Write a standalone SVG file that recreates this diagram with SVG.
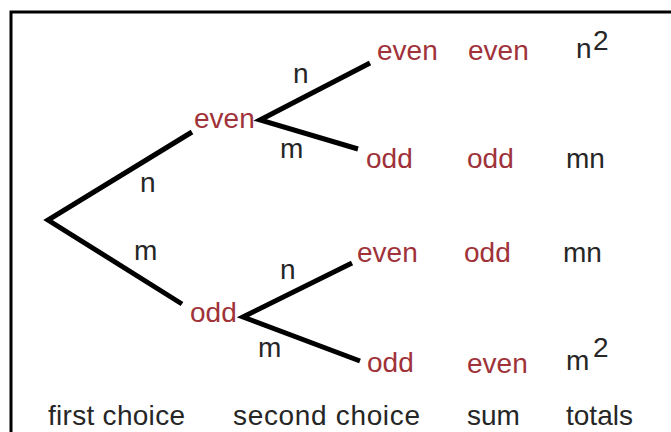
<svg xmlns="http://www.w3.org/2000/svg" width="671" height="432" viewBox="0 0 671 432">
<style>
text{font-family:"Liberation Sans",Arial,sans-serif;font-size:28px}
.r{fill:#a0323a}
.k{fill:#262626}
.e{stroke:#000;stroke-width:5;fill:none;stroke-linecap:butt;stroke-linejoin:miter}
</style>
<rect width="671" height="432" fill="#fff"/>
<path d="M11,432 V12 H671" fill="none" stroke="#000" stroke-width="3"/>
<g id="connectors">
<path class="e" d="M192,132 L48,220 L182,304"/>
<path class="e" d="M370,63 L260,120 L358,149"/>
<path class="e" d="M352,263 L243,317 L360,361"/>
</g>
<g id="edge-labels">
<text class="k" x="140" y="192">n</text>
<text class="k" x="134" y="260">m</text>
<text class="k" x="293" y="83">n</text>
<text class="k" x="280" y="158">m</text>
<text class="k" x="280" y="279">n</text>
<text class="k" x="258" y="357">m</text>
</g>
<g id="node-even"><text class="r" x="194" y="128">even</text></g>
<g id="node-odd"><text class="r" x="190" y="322">odd</text></g>
<g id="leaf-even-even">
<text class="r" x="377" y="60">even</text>
<text class="r" x="468" y="60">even</text>
<text class="k" x="576" y="58">n</text><text class="k" x="593" y="50">2</text>
</g>
<g id="leaf-even-odd">
<text class="r" x="366" y="168">odd</text>
<text class="r" x="467" y="168">odd</text>
<text class="k" x="566" y="168">mn</text>
</g>
<g id="leaf-odd-even">
<text class="r" x="357" y="262">even</text>
<text class="r" x="464" y="262">odd</text>
<text class="k" x="563" y="262">mn</text>
</g>
<g id="leaf-odd-odd">
<text class="r" x="367" y="372">odd</text>
<text class="r" x="467" y="373">even</text>
<text class="k" x="566" y="370">m</text><text class="k" x="593" y="357">2</text>
</g>
<g id="headers">
<text class="k" x="48" y="425" textLength="137">first choice</text>
<text class="k" x="233" y="425" textLength="187">second choice</text>
<text class="k" x="467" y="425">sum</text>
<text class="k" x="566" y="425">totals</text>
</g>
</svg>
